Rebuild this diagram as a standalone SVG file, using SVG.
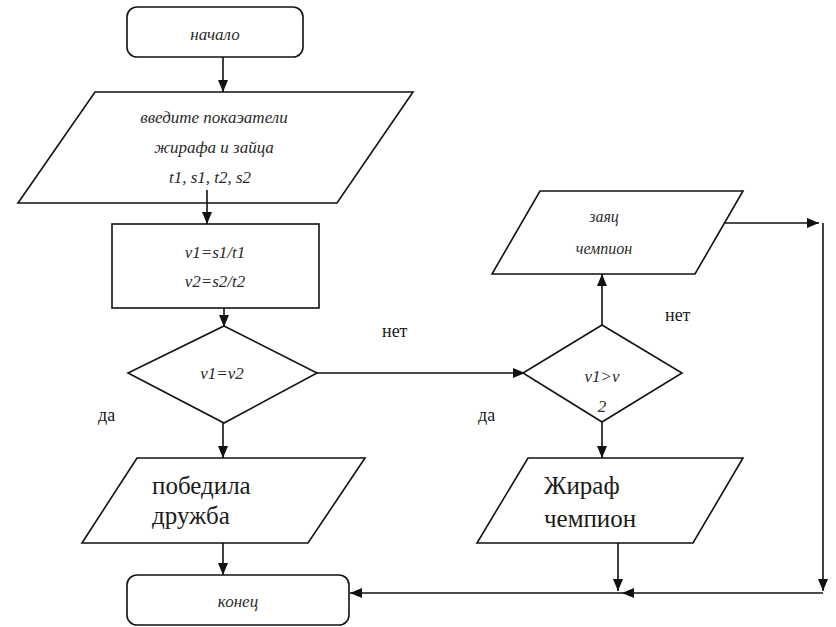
<svg xmlns="http://www.w3.org/2000/svg" width="836" height="627" viewBox="0 0 836 627">
  <style>
    .shape { fill: #ffffff; stroke: #111111; stroke-width: 1.6; }
    .edge { fill: none; stroke: #111111; stroke-width: 1.6; }
    text { font-family: "Times New Roman", "Liberation Serif", Tinos, "Noto Serif", "DejaVu Serif", serif; }
    .it { font-style: italic; fill: #2a2a2a; text-anchor: middle; }
    .rm { fill: #1a1a1a; }
  </style>
  <defs>
    <marker id="arrow" viewBox="0 0 12 10" refX="12" refY="5" markerWidth="12" markerHeight="10" markerUnits="userSpaceOnUse" orient="auto">
      <path d="M0,0 L12,5 L0,10 Z" fill="#111111"/>
    </marker>
  </defs>
  <rect width="836" height="627" fill="#ffffff"/>

  <!-- start terminator -->
  <g id="start">
    <rect class="shape" x="127" y="7" width="176" height="50" rx="10" ry="10"/>
    <text class="it" x="215" y="40" font-size="17">начало</text>
  </g>

  <!-- input of giraffe and hare figures -->
  <g id="input">
    <polygon class="shape" points="95,92 413,92 337,203 18,203"/>
    <text class="it" x="214" y="123" font-size="17">введите покаэатели</text>
    <text class="it" x="214" y="153" font-size="17">жирафа и зайца</text>
    <text class="it" x="210" y="183" font-size="17">t1, s1, t2, s2</text>
  </g>

  <!-- speed calculation -->
  <g id="calc">
    <rect class="shape" x="112" y="224" width="207" height="84"/>
    <text class="it" x="215" y="258" font-size="17">v1=s1/t1</text>
    <text class="it" x="215" y="287" font-size="17">v2=s2/t2</text>
  </g>

  <!-- decision: equal speeds -->
  <g id="equal">
    <polygon class="shape" points="224,326 317,373 224,423 128,373"/>
    <text class="it" x="222" y="379" font-size="17">v1=v2</text>
  </g>

  <!-- decision: first faster -->
  <g id="faster">
    <polygon class="shape" points="602,325 682,373 602,422 523,373"/>
    <text class="it" x="602" y="382" font-size="17">v1&gt;v</text>
    <text class="it" x="602" y="412" font-size="17">2</text>
  </g>

  <!-- output: hare wins -->
  <g id="hare">
    <polygon class="shape" points="540,191 743,191 695,274 492,274"/>
    <text class="it" x="604" y="222" font-size="16">заяц</text>
    <text class="it" x="604" y="254" font-size="16">чемпион</text>
  </g>

  <!-- output: friendship wins -->
  <g id="draw">
    <polygon class="shape" points="137,458 365,458 308,543 82,543"/>
    <text class="rm" x="152" y="494" font-size="25">победила</text>
    <text class="rm" x="152" y="524" font-size="25">дружба</text>
  </g>

  <!-- output: giraffe wins -->
  <g id="giraffe">
    <polygon class="shape" points="528,458 743,458 693,543 477,543"/>
    <text class="rm" x="544" y="494" font-size="25">Жираф</text>
    <text class="rm" x="544" y="527" font-size="25">чемпион</text>
  </g>

  <!-- end terminator -->
  <g id="end">
    <rect class="shape" x="127" y="575" width="222" height="50" rx="10" ry="10"/>
    <text class="it" x="238" y="607" font-size="17">конец</text>
  </g>

  <!-- branch labels -->
  <g id="labels">
    <text class="rm" x="382" y="337" font-size="18">нет</text>
    <text class="rm" x="665" y="321" font-size="18">нет</text>
    <text class="rm" x="98" y="421" font-size="18">да</text>
    <text class="rm" x="478" y="421" font-size="18">да</text>
  </g>

  <!-- connectors -->
  <g id="connectors">
    <line class="edge" x1="223" y1="57" x2="223" y2="92" marker-end="url(#arrow)"/>
    <line class="edge" x1="207" y1="190" x2="207" y2="224" marker-end="url(#arrow)"/>
    <line class="edge" x1="224" y1="308" x2="224" y2="327" marker-end="url(#arrow)"/>
    <line class="edge" x1="317" y1="373" x2="525" y2="373" marker-end="url(#arrow)"/>
    <line class="edge" x1="602" y1="325" x2="602" y2="274" marker-end="url(#arrow)"/>
    <line class="edge" x1="725" y1="223" x2="819" y2="223" marker-end="url(#arrow)"/>
    <line class="edge" x1="823" y1="223" x2="823" y2="591" marker-end="url(#arrow)"/>
    <line class="edge" x1="823" y1="593" x2="622" y2="593" marker-end="url(#arrow)"/>
    <line class="edge" x1="622" y1="593" x2="350" y2="593" marker-end="url(#arrow)"/>
    <line class="edge" x1="602" y1="422" x2="602" y2="458" marker-end="url(#arrow)"/>
    <line class="edge" x1="618" y1="543" x2="618" y2="591" marker-end="url(#arrow)"/>
    <line class="edge" x1="223" y1="423" x2="223" y2="458" marker-end="url(#arrow)"/>
    <line class="edge" x1="223" y1="543" x2="223" y2="575" marker-end="url(#arrow)"/>
  </g>
</svg>
